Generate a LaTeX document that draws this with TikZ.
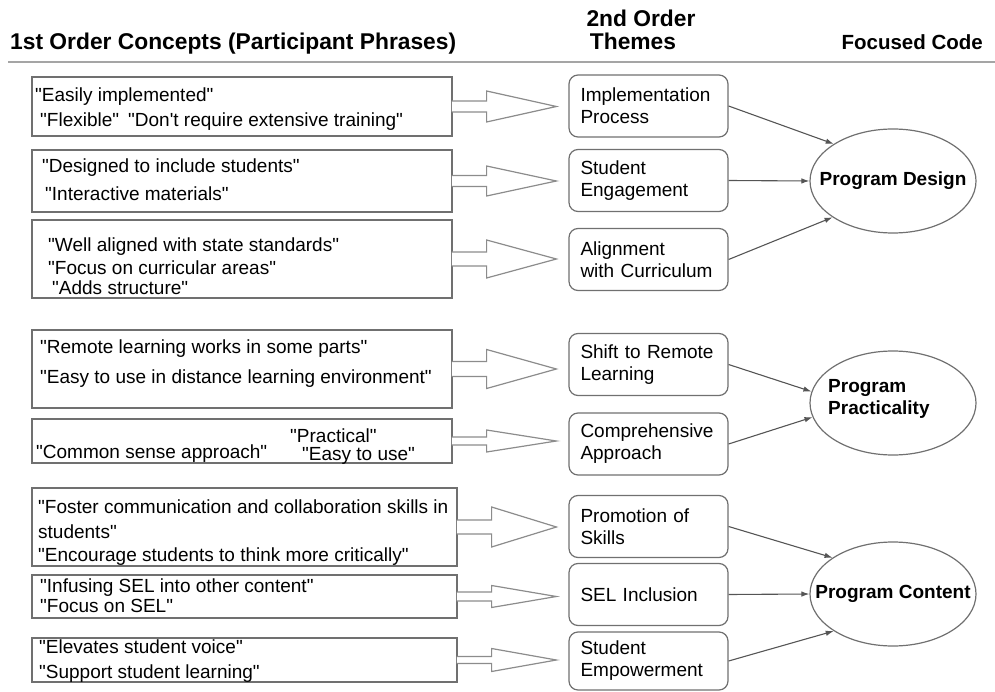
\documentclass[tikz,border=0pt]{standalone}
\usepackage{fontspec}
\setmainfont{Liberation Sans}[Ligatures=TeXOff]
\usetikzlibrary{shapes.geometric, positioning, calc, arrows.meta}

\definecolor{edgegray}{HTML}{707070}
\definecolor{arrowgray}{HTML}{8C8C8C}
\definecolor{linkgray}{HTML}{555555}
\definecolor{rulegray}{HTML}{A5A5A5}

% hollow block arrow from a phrase box to its theme
\newcommand{\blockarrow}[4]{%
  \path[blockarr] let \p1=(#1.east), \p2=(#2.west) in
    (\x1-0.7pt,\y1+#3pt) -- (\x1+34pt,\y1+#3pt) -- (\x1+34pt,\y1+#4pt)
    -- (\x2-12pt,\y1) -- (\x1+34pt,\y1-#4pt) -- (\x1+34pt,\y1-#3pt)
    -- (\x1-0.7pt,\y1-#3pt);}

\begin{document}
\begin{tikzpicture}[x=1pt, y=-1pt,
    phrasebox/.style={draw=edgegray, line width=1.2pt, inner sep=0pt},
    phrase/.style={anchor=base west, inner sep=0pt, font=\fontsize{19}{22}\selectfont},
    theme/.style={draw=edgegray, line width=1.2pt, rounded corners=9pt,
        minimum width=159pt, minimum height=62pt, text width=136pt,
        inner xsep=11.5pt, align=left, font=\fontsize{19}{22}\selectfont},
    code/.style={ellipse, draw=edgegray, line width=1.2pt,
        minimum width=166pt, minimum height=104pt, inner sep=0pt},
    codetext/.style={inner sep=0pt, font=\fontsize{19}{22}\selectfont\bfseries},
    header/.style={inner sep=0pt, anchor=base west, font=\fontsize{22.8}{26}\selectfont\bfseries},
    blockarr/.style={draw=arrowgray, fill=white, line width=1.2pt},
    link/.style={draw=linkgray, line width=1.1pt, -{Latex[length=8pt,width=5.5pt]}}
]
    \useasboundingbox (0,0) rectangle (995,692);

    % --- Headers ---
    \node[header] (h1) at (10,50) {1st Order Concepts (Participant Phrases)};
    \node[header, anchor=base] (h2a) at (641,27) {2nd Order};
    \node[header, anchor=base] (h2b) at (633,50) {Themes};
    \node[header, anchor=base east, font=\fontsize{20.5}{24}\selectfont\bfseries] (h3) at (983,50) {Focused Code};
    \draw[rulegray, line width=1.4pt] (8,62) -- (995,62);

    % --- 1st order phrase boxes ---
    \node[phrasebox, minimum width=420pt, minimum height=59pt] (c1) at (242,106.5) {};
    \node[phrasebox, minimum width=420pt, minimum height=62pt] (c2) at (242,181) {};
    \node[phrasebox, minimum width=420pt, minimum height=78pt] (c3) at (242,259) {};
    \node[phrasebox, minimum width=420pt, minimum height=78pt] (c4) at (242,369) {};
    \node[phrasebox, minimum width=420pt, minimum height=44pt] (c5) at (242,441) {};
    \node[phrasebox, minimum width=425pt, minimum height=78pt] (c6) at (244.5,527) {};
    \node[phrasebox, minimum width=425pt, minimum height=43pt] (c7) at (244.5,596.5) {};
    \node[phrasebox, minimum width=425pt, minimum height=44pt] (c8) at (244.5,660) {};

    % phrases
    \node[phrase] (c1a) at (35,102) {"Easily implemented"};
    \node[phrase] (c1b) at (40,127) {"Flexible"};
    \node[phrase] (c1c) at (128,127) {"Don't require extensive training"};
    \node[phrase] (c2a) at (42,173) {"Designed to include students"};
    \node[phrase] (c2b) at (45,201) {"Interactive materials"};
    \node[phrase] (c3a) at (48,252) {"Well aligned with state standards"};
    \node[phrase] (c3b) at (48,275) {"Focus on curricular areas"};
    \node[phrase] (c3c) at (52,295) {"Adds structure"};
    \node[phrase] (c4a) at (40,353) {"Remote learning works in some parts"};
    \node[phrase] (c4b) at (40,383) {"Easy to use in distance learning environment"};
    \node[phrase] (c5a) at (36,458) {"Common sense approach"};
    \node[phrase] (c5b) at (290,442) {"Practical"};
    \node[phrase] (c5c) at (302,460) {"Easy to use"};
    \node[phrase] (c6a) at (38,513) {"Foster communication and collaboration skills in};
    \node[phrase] (c6b) at (38,538) {students"};
    \node[phrase] (c6c) at (38,561) {"Encourage students to think more critically"};
    \node[phrase] (c7a) at (40,592) {"Infusing SEL into other content"};
    \node[phrase] (c7b) at (40,612) {"Focus on SEL"};
    \node[phrase] (c8a) at (39,653) {"Elevates student voice"};
    \node[phrase] (c8b) at (39,678) {"Support student learning"};

    % --- 2nd order themes ---
    \node[theme] (t1) at (648.5,106) {Implementation\\Process};
    \node[theme] (t2) at (648.5,180.5) {Student\\Engagement};
    \node[theme] (t3) at (648.5,259.5) {Alignment\\with Curriculum};
    \node[theme] (t4) at (648.5,364.5) {Shift to Remote\\Learning};
    \node[theme] (t5) at (648.5,444) {Comprehensive\\Approach};
    \node[theme] (t6) at (648.5,526.5) {Promotion of\\Skills};
    \node[theme] (t7) at (648.5,594.5) {SEL Inclusion};
    \node[theme, minimum height=58pt] (t8) at (648.5,661) {Student\\Empowerment};

    % block arrows
    \blockarrow{c1}{t1}{5.5}{15.5}
    \blockarrow{c2}{t2}{5.5}{15}
    \blockarrow{c3}{t3}{7}{19}
    \blockarrow{c4}{t4}{7.5}{19.5}
    \blockarrow{c5}{t5}{4}{11}
    \blockarrow{c6}{t6}{7}{20}
    \blockarrow{c7}{t7}{4.5}{11}
    \blockarrow{c8}{t8}{3.5}{11.5}

    % --- Focused codes ---
    \node[code] (pd) at (893,181) {};
    \node[codetext] (pdt) at (pd) {Program Design};
    \node[code] (pp) at (893,403) {};
    \node[codetext, align=left, anchor=west] (ppt) at (828,399) {Program\\Practicality};
    \node[code] (pc) at (893,594) {};
    \node[codetext] (pct) at (pc) {Program Content};

    % theme to code links
    \draw[link] (t1.east) -- (pd.148);
    \draw[link] (t2.east) -- (pd.180);
    \draw[link] (t3.east) -- (pd.211);
    \draw[link] (t4.east) -- (pp.172);
    \draw[link] (t5.east) -- (pp.190);
    \draw[link] (t6.east) -- (pc.149);
    \draw[link] (t7.east) -- (pc.180);
    \draw[link] (t8.east) -- (pc.212);

\end{tikzpicture}
\end{document}
